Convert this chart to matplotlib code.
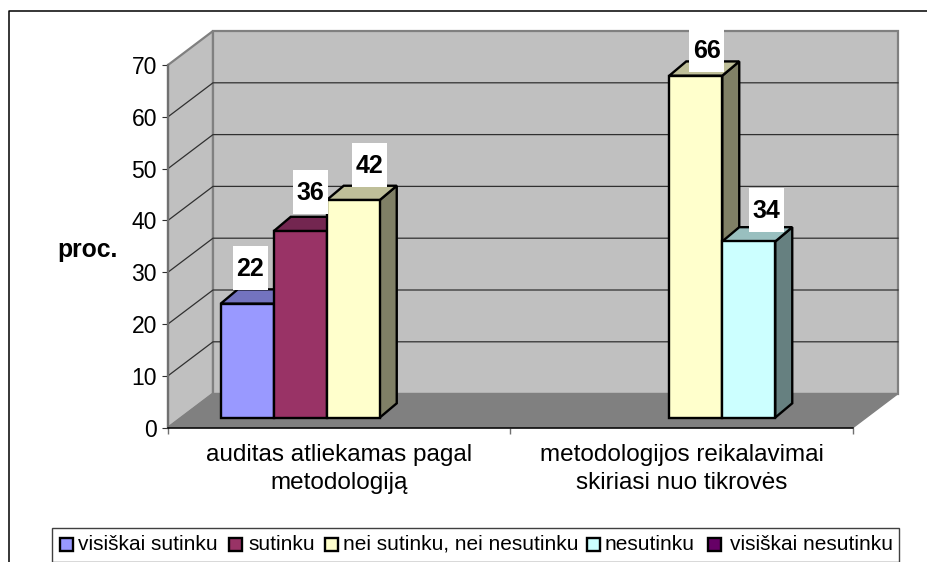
import numpy as np
import matplotlib
matplotlib.use("Agg")
import matplotlib.pyplot as plt
from matplotlib.patches import Polygon, Rectangle

plt.rcParams['font.family'] = ['Liberation Sans', 'DejaVu Sans']

categories = ["auditas atliekamas pagal\nmetodologiją",
              "metodologijos reikalavimai\nskiriasi nuo tikrovės"]
series_names = ["visiškai sutinku", "sutinku", "nei sutinku, nei nesutinku",
                "nesutinku", "visiškai nesutinku"]
blue = [22, 0]
maroon = [36, 0]
yellow = [42, 66]
cyan = [0, 34]
purple = [0, 0]
yticks = [0, 10, 20, 30, 40, 50, 60, 70]

W, H = 928, 562
front = ["#9999FF", "#993366", "#FFFFCC", "#CCFFFF", "#660066"]
top = ["#7373BF", "#732650", "#BFBF99", "#99BFBF", "#4D004D"]
side = ["#4D4D80", "#4D1A33", "#808066", "#668080", "#330033"]

fig = plt.figure(figsize=(W / 100, H / 100), dpi=100)
ax = fig.add_axes([168 / W, 1 - 427.6 / H, 685 / W, 362.6 / H])
ax.set_xlim(0, 2)
ax.set_ylim(0, 70)
ax.patch.set_visible(False)

# size of one pixel in data units
px = 2 / 685
py = 70 / 362.6
wall_dx, wall_dy = 45 * px, 34 * py

# walls and floor
ax.add_patch(Polygon([(0, 0), (wall_dx, wall_dy), (wall_dx, 70 + wall_dy), (0, 70)],
                     fc="#C0C0C0", ec="#808080", lw=1.6, clip_on=False, zorder=1))
ax.add_patch(Rectangle((wall_dx, wall_dy), 2, 70, fc="#C0C0C0", ec="#808080",
                       lw=1.6, clip_on=False, zorder=1))
ax.add_patch(Polygon([(0, 0), (2, 0), (2 + wall_dx, wall_dy), (wall_dx, wall_dy)],
                     fc="#808080", ec="#808080", lw=1, clip_on=False, zorder=1.5))
for v in yticks[1:-1]:
    ax.plot([0, wall_dx, 2 + wall_dx], [v, v + wall_dy, v + wall_dy],
            color="#303030", lw=0.9, clip_on=False, zorder=2)

# bars, left to right so each one covers the side of the one before
slot = 53 * px
margin = (1 - 5 * slot) / 2
shift_x, shift_y = 14 * px, 10 * py
depth_x, depth_y = 17 * px, 14.3 * py
label_w, label_h = 35 * px, 44 * py
nudges = {(0, 0): (3, 36), (1, 0): (10, 39), (2, 0): (16, 35),
          (2, 1): (11, 26), (3, 1): (18, 31)}
z = 3
all_series = [blue, maroon, yellow, cyan, purple]
labels = []
for c in range(len(categories)):
    for s, values in enumerate(all_series):
        v = values[c]
        if v == 0:
            continue
        x0 = c + margin + s * slot + shift_x
        x1 = x0 + slot
        y1 = v + shift_y
        ax.add_patch(Polygon([(x1, shift_y), (x1 + depth_x, shift_y + depth_y),
                              (x1 + depth_x, y1 + depth_y), (x1, y1)],
                             fc=side[s], ec="black", lw=1.7, clip_on=False, zorder=z))
        ax.add_patch(Polygon([(x0, y1), (x0 + depth_x, y1 + depth_y),
                              (x1 + depth_x, y1 + depth_y), (x1, y1)],
                             fc=top[s], ec="black", lw=1.7, clip_on=False, zorder=z))
        ax.bar(x0, v, width=slot, bottom=shift_y, align="edge", color=front[s],
               edgecolor="black", lw=1.7, clip_on=False, zorder=z + 0.1)
        z += 1
        labels.append((s, c, v, (x0 + x1) / 2, y1))

for s, c, v, xc, yt in labels:
    nx, ny = nudges[(s, c)]
    cx, cy = xc + nx * px, yt + ny * py
    ax.add_patch(Rectangle((cx - label_w / 2, cy - label_h / 2), label_w, label_h,
                           fc="white", ec="none", clip_on=False, zorder=50))
    ax.text(cx, cy - 1 * py, str(v), ha="center", va="center", fontsize=18,
            fontweight="bold", zorder=51)

# axes
for name in ["top", "right"]:
    ax.spines[name].set_visible(False)
ax.spines["left"].set_color("#707070")
ax.spines["left"].set_linewidth(1.6)
ax.spines["bottom"].set_color("black")
ax.spines["bottom"].set_linewidth(1.1)
ax.spines["left"].set_zorder(2.5)
ax.spines["bottom"].set_zorder(2.5)
ax.set_yticks(yticks)
ax.tick_params(axis="y", length=4.5, width=0.8, color="#303030", labelsize=16.5, pad=3.5)
ax.set_xticks([0, 1, 2])
ax.set_xticklabels([])
ax.tick_params(axis="x", which="major", length=4.5, width=1, color="#707070")
ax.set_xticks([0.5, 1.5], minor=True)
ax.set_xticklabels(categories, minor=True, fontsize=17.5, linespacing=1.34)
ax.tick_params(axis="x", which="minor", length=0, pad=12)

fig.text(87.5 / W, 1 - 250 / H, "proc.", ha="center", va="center",
         fontsize=17.8, fontweight="bold")

# outer frame, open at right and bottom
fig.add_artist(plt.Line2D([9.5 / W, 9.5 / W, 1], [0, 1 - 10.5 / H, 1 - 10.5 / H],
                          color="black", lw=1.1))

# legend
fig.add_artist(Rectangle((52.5 / W, 1 - 561.5 / H), 846.5 / W, 34 / H, fc="white",
                         ec="#404040", lw=1, transform=fig.transFigure))
swatch_x = [60, 229, 325, 587, 708]
text_x = [78, 248, 343, 605, 730]
for name, color, sx, tx in zip(series_names, front, swatch_x, text_x):
    fig.add_artist(Rectangle((sx / W, 1 - 551 / H), 13 / W, 13 / H, fc=color,
                             ec="black", lw=1.7, transform=fig.transFigure))
    fig.text(tx / W, 1 - 544.5 / H, name, ha="left", va="center", fontsize=15)

fig.savefig("out.png", dpi=100)
